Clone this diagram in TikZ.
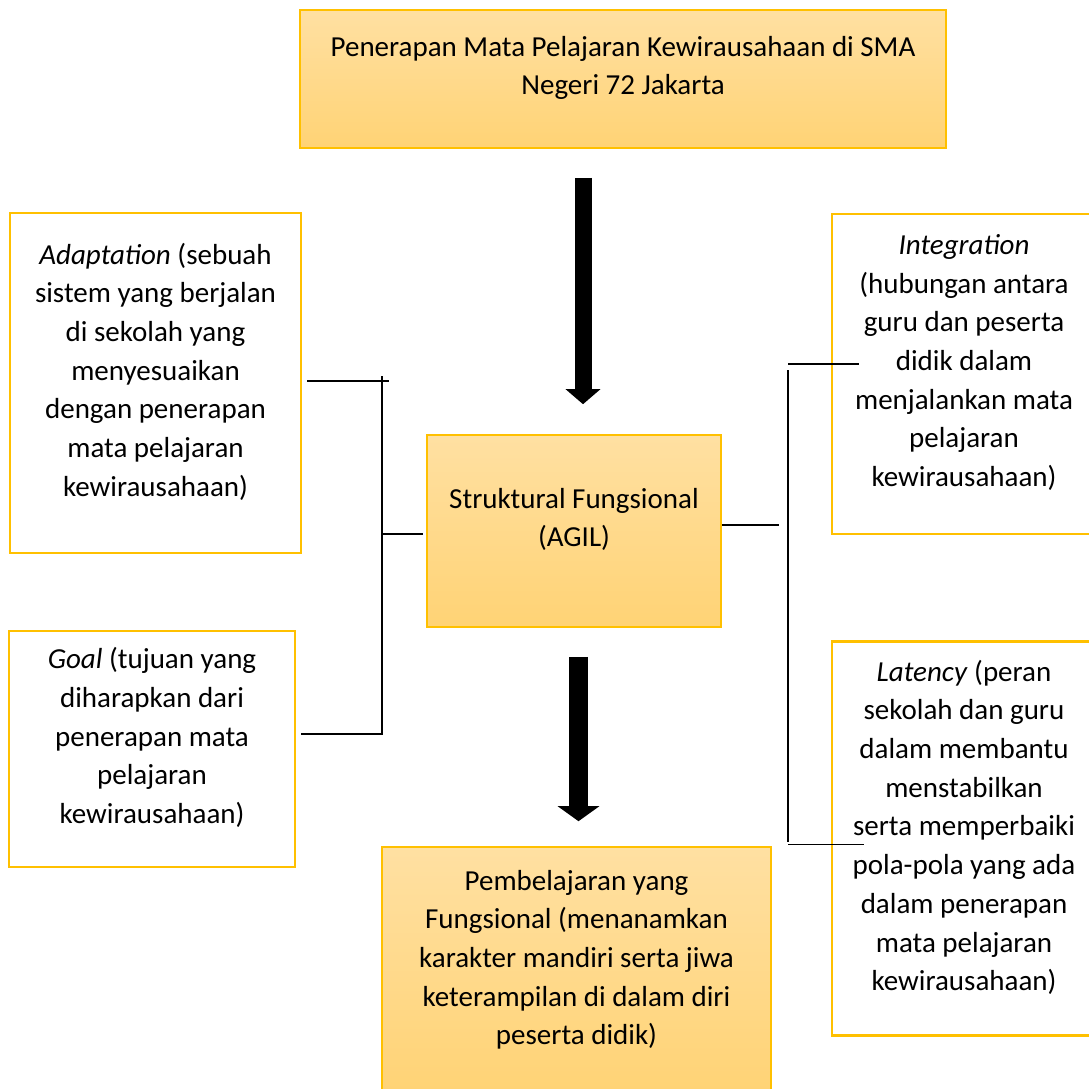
\documentclass[tikz,border=0pt]{standalone}
\usepackage{fontspec}
\setmainfont{Carlito}
\usetikzlibrary{positioning,arrows.meta}
\definecolor{goldline}{HTML}{FFC000}
\definecolor{goldtop}{HTML}{FFE0A2}
\definecolor{goldbot}{HTML}{FFD375}
\tikzset{
  boxtext/.style={align=center, inner sep=0pt, font=\fontsize{29}{38.7}\selectfont,
    execute at end node={\rule[-27pt]{0pt}{0pt}}},
  goldbox/.style={boxtext, draw=goldline, line width=1.6pt, top color=goldtop, bottom color=goldbot},
  sidebox/.style={boxtext, draw=goldline, line width=2.8pt, fill=white},
  linkline/.style={line width=1.2pt},
  bigarrow/.style={line width=#1, draw=black},
}

\begin{document}
\begin{tikzpicture}[x=1pt, y=-1pt]
  \useasboundingbox (0,0) rectangle (1089,1088);
  % kotak utama
  \node[goldbox, minimum width=646pt, minimum height=138pt] (judul) at (623,79)
    {Penerapan Mata Pelajaran Kewirausahaan di SMA\\Negeri 72 Jakarta};
  \node[goldbox, minimum width=294pt, minimum height=192pt] (agil) at (574,531)
    {Struktural Fungsional\\(AGIL)};
  \node[goldbox, minimum width=389pt, minimum height=248pt] (hasil) at (576.5,971)
    {Pembelajaran yang\\Fungsional (menanamkan\\karakter mandiri serta jiwa\\keterampilan di dalam diri\\peserta didik)};
  % kotak AGIL kiri
  \node[sidebox, minimum width=291pt, minimum height=340pt] (adapt) at (155.5,383)
    {\textit{Adaptation} (sebuah\\sistem yang berjalan\\di sekolah yang\\menyesuaikan\\dengan penerapan\\mata pelajaran\\kewirausahaan)};
  \node[sidebox, minimum width=286pt, minimum height=236pt] (goal) at (152,749)
    {\textit{Goal} (tujuan yang\\diharapkan dari\\penerapan mata\\pelajaran\\kewirausahaan)};
  % kotak AGIL kanan
  \node[sidebox, minimum width=264pt, minimum height=320pt] (integ) at (964,374)
    {\textit{Integration}\\(hubungan antara\\guru dan peserta\\didik dalam\\menjalankan mata\\pelajaran\\kewirausahaan)};
  \node[sidebox, minimum width=264pt, minimum height=394pt, below=105pt of integ] (laten)
    {\textit{Latency} (peran\\sekolah dan guru\\dalam membantu\\menstabilkan\\serta memperbaiki\\pola-pola yang ada\\dalam penerapan\\mata pelajaran\\kewirausahaan)};

  % panah tebal
  \draw[bigarrow=17pt, -{Triangle[length=15pt,width=34pt]}, shorten <=29pt, shorten >=30pt]
    ([xshift=-40pt]judul.south) -- ([xshift=9pt]agil.north);
  \draw[bigarrow=19pt, -{Triangle[length=15pt,width=41pt]}, shorten <=29pt, shorten >=25pt]
    ([xshift=4.5pt]agil.south) -- ([xshift=2pt]hasil.north);

  % garis penghubung kiri
  \coordinate (lbus) at (382,0);
  \draw[linkline] ([shift={(5,-2)}]adapt.east) -- ++(82,0);
  \draw[linkline] ([yshift=7pt]adapt.east -| lbus) -- ([yshift=15pt]goal.east -| lbus)
    -- ([shift={(5,-15)}]goal.east);
  \draw[linkline, shorten >=3pt] ([yshift=-3pt]agil.west -| lbus) -- ([yshift=-3pt]agil.west);
  % garis penghubung kanan
  \coordinate (rbus) at (788,0);
  \draw[linkline] ([yshift=6pt]agil.east) -- ++(57,0);
  \draw[linkline] (rbus |- 0,370) -- (rbus |- 0,842);
  \draw[linkline] ([yshift=10pt]integ.west -| rbus) -- ([shift={(28,-10)}]integ.west);
  \draw[linkline] ([yshift=-6pt]laten.west -| rbus) -- ([shift={(33,6)}]laten.west);
\end{tikzpicture}
\end{document}
